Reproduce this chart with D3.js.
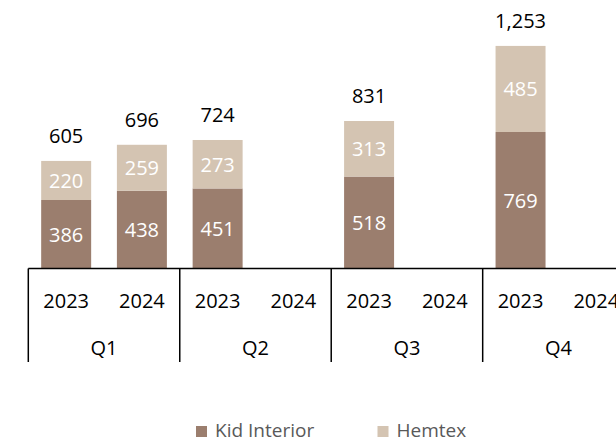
<!DOCTYPE html>
<html>
<head>
<meta charset="utf-8">
<script src="https://cdn.jsdelivr.net/npm/d3@7"></script>
<style>
body { margin: 0; background: #fff; }
text { font-family: "Open Sans", sans-serif; }
</style>
</head>
<body>
<div id="chart-area"></div>
<script>
// data
var quarters = ["Q1", "Q2", "Q3", "Q4"];
var years = ["2023", "2024"];
var kidInterior = [386, 438, 451, null, 518, null, 769, null];
var hemtex = [220, 259, 273, null, 313, null, 485, null];
var totals = [605, 696, 724, null, 831, null, 1253, null];
var seriesNames = ["Kid Interior", "Hemtex"];
var seriesColors = ["#9b7e6e", "#d4c4b2"];

var width = 616, height = 441;

var svg = d3.select("#chart-area")
	.append("svg")
		.attr("width", width)
		.attr("height", height);

// one slot per quarter/year pair
var slots = [];
quarters.forEach(function(q){
	years.forEach(function(yr){ slots.push(q + "-" + yr); });
});

var x = d3.scaleBand()
	.domain(slots)
	.range([28.3, 28.3 + 75.73 * 8])
	.paddingInner(0.34)
	.paddingOuter(0.17);

var xGroup = d3.scaleBand()
	.domain(quarters)
	.range([28.3, 28.3 + 75.73 * 8]);

var y = d3.scaleLinear()
	.domain([0, 1400])
	.range([268.5, 20]);

var fmt = d3.format(",");

// stacked data
var rows = slots.map(function(s, i){
	return { slot: s, k: kidInterior[i], h: hemtex[i], total: totals[i] };
}).filter(function(d){ return d.k != null; });

var stack = d3.stack().keys(["k", "h"])(rows);

var layers = svg.selectAll("g.layer")
	.data(stack)
	.enter().append("g")
		.attr("class", "layer")
		.attr("fill", function(d, i){ return seriesColors[i]; });

layers.selectAll("rect")
	.data(function(d){ return d; })
	.enter().append("rect")
		.attr("x", function(d){ return x(d.data.slot); })
		.attr("width", x.bandwidth())
		.attr("y", function(d){ return y(d[1]); })
		.attr("height", function(d){ return y(d[0]) - y(d[1]); });

// segment labels
layers.selectAll("text")
	.data(function(d){ return d; })
	.enter().append("text")
		.attr("x", function(d){ return x(d.data.slot) + x.bandwidth() / 2; })
		.attr("y", function(d){ return (y(d[0]) + y(d[1])) / 2 + 7.5; })
		.attr("text-anchor", "middle")
		.attr("font-size", "20px")
		.attr("fill", "#fff")
		.text(function(d){ return fmt(d[1] - d[0]); });

// totals
svg.selectAll("text.total")
	.data(rows)
	.enter().append("text")
		.attr("class", "total")
		.attr("x", function(d){ return x(d.slot) + x.bandwidth() / 2; })
		.attr("y", function(d){ return y(d.k + d.h) - 18; })
		.attr("text-anchor", "middle")
		.attr("font-size", "20px")
		.attr("fill", "#000")
		.text(function(d){ return fmt(d.total); });

// axis: baseline and group separators
var axis = svg.append("g").attr("stroke", "#000").attr("stroke-width", 1.5);
axis.append("line")
	.attr("x1", xGroup.range()[0]).attr("x2", xGroup.range()[1])
	.attr("y1", y(0)).attr("y2", y(0));
axis.selectAll("line.sep")
	.data(quarters)
	.enter().append("line")
		.attr("class", "sep")
		.attr("x1", function(d){ return xGroup(d); })
		.attr("x2", function(d){ return xGroup(d); })
		.attr("y1", y(0))
		.attr("y2", 362);

// year labels
svg.selectAll("text.year")
	.data(slots)
	.enter().append("text")
		.attr("class", "year")
		.attr("x", function(d){ return x(d) + x.bandwidth() / 2; })
		.attr("y", 308)
		.attr("text-anchor", "middle")
		.attr("font-size", "20px")
		.attr("fill", "#000")
		.text(function(d){ return d.split("-")[1]; });

// quarter labels
svg.selectAll("text.quarter")
	.data(quarters)
	.enter().append("text")
		.attr("class", "quarter")
		.attr("x", function(d){ return xGroup(d) + xGroup.bandwidth() / 2; })
		.attr("y", 355)
		.attr("text-anchor", "middle")
		.attr("font-size", "20px")
		.attr("fill", "#000")
		.text(function(d){ return d; });

// legend
var legendX = [196, 377.5];
seriesNames.forEach(function(name, i){
	var row = svg.append("g")
		.attr("transform", "translate(" + legendX[i] + ", 426)");
	row.append("rect")
		.attr("width", 11)
		.attr("height", 11)
		.attr("fill", seriesColors[i]);
	row.append("text")
		.attr("x", 19)
		.attr("y", 11)
		.attr("font-size", "19px")
		.attr("fill", "#595959")
		.text(name);
});
</script>
</body>
</html>
